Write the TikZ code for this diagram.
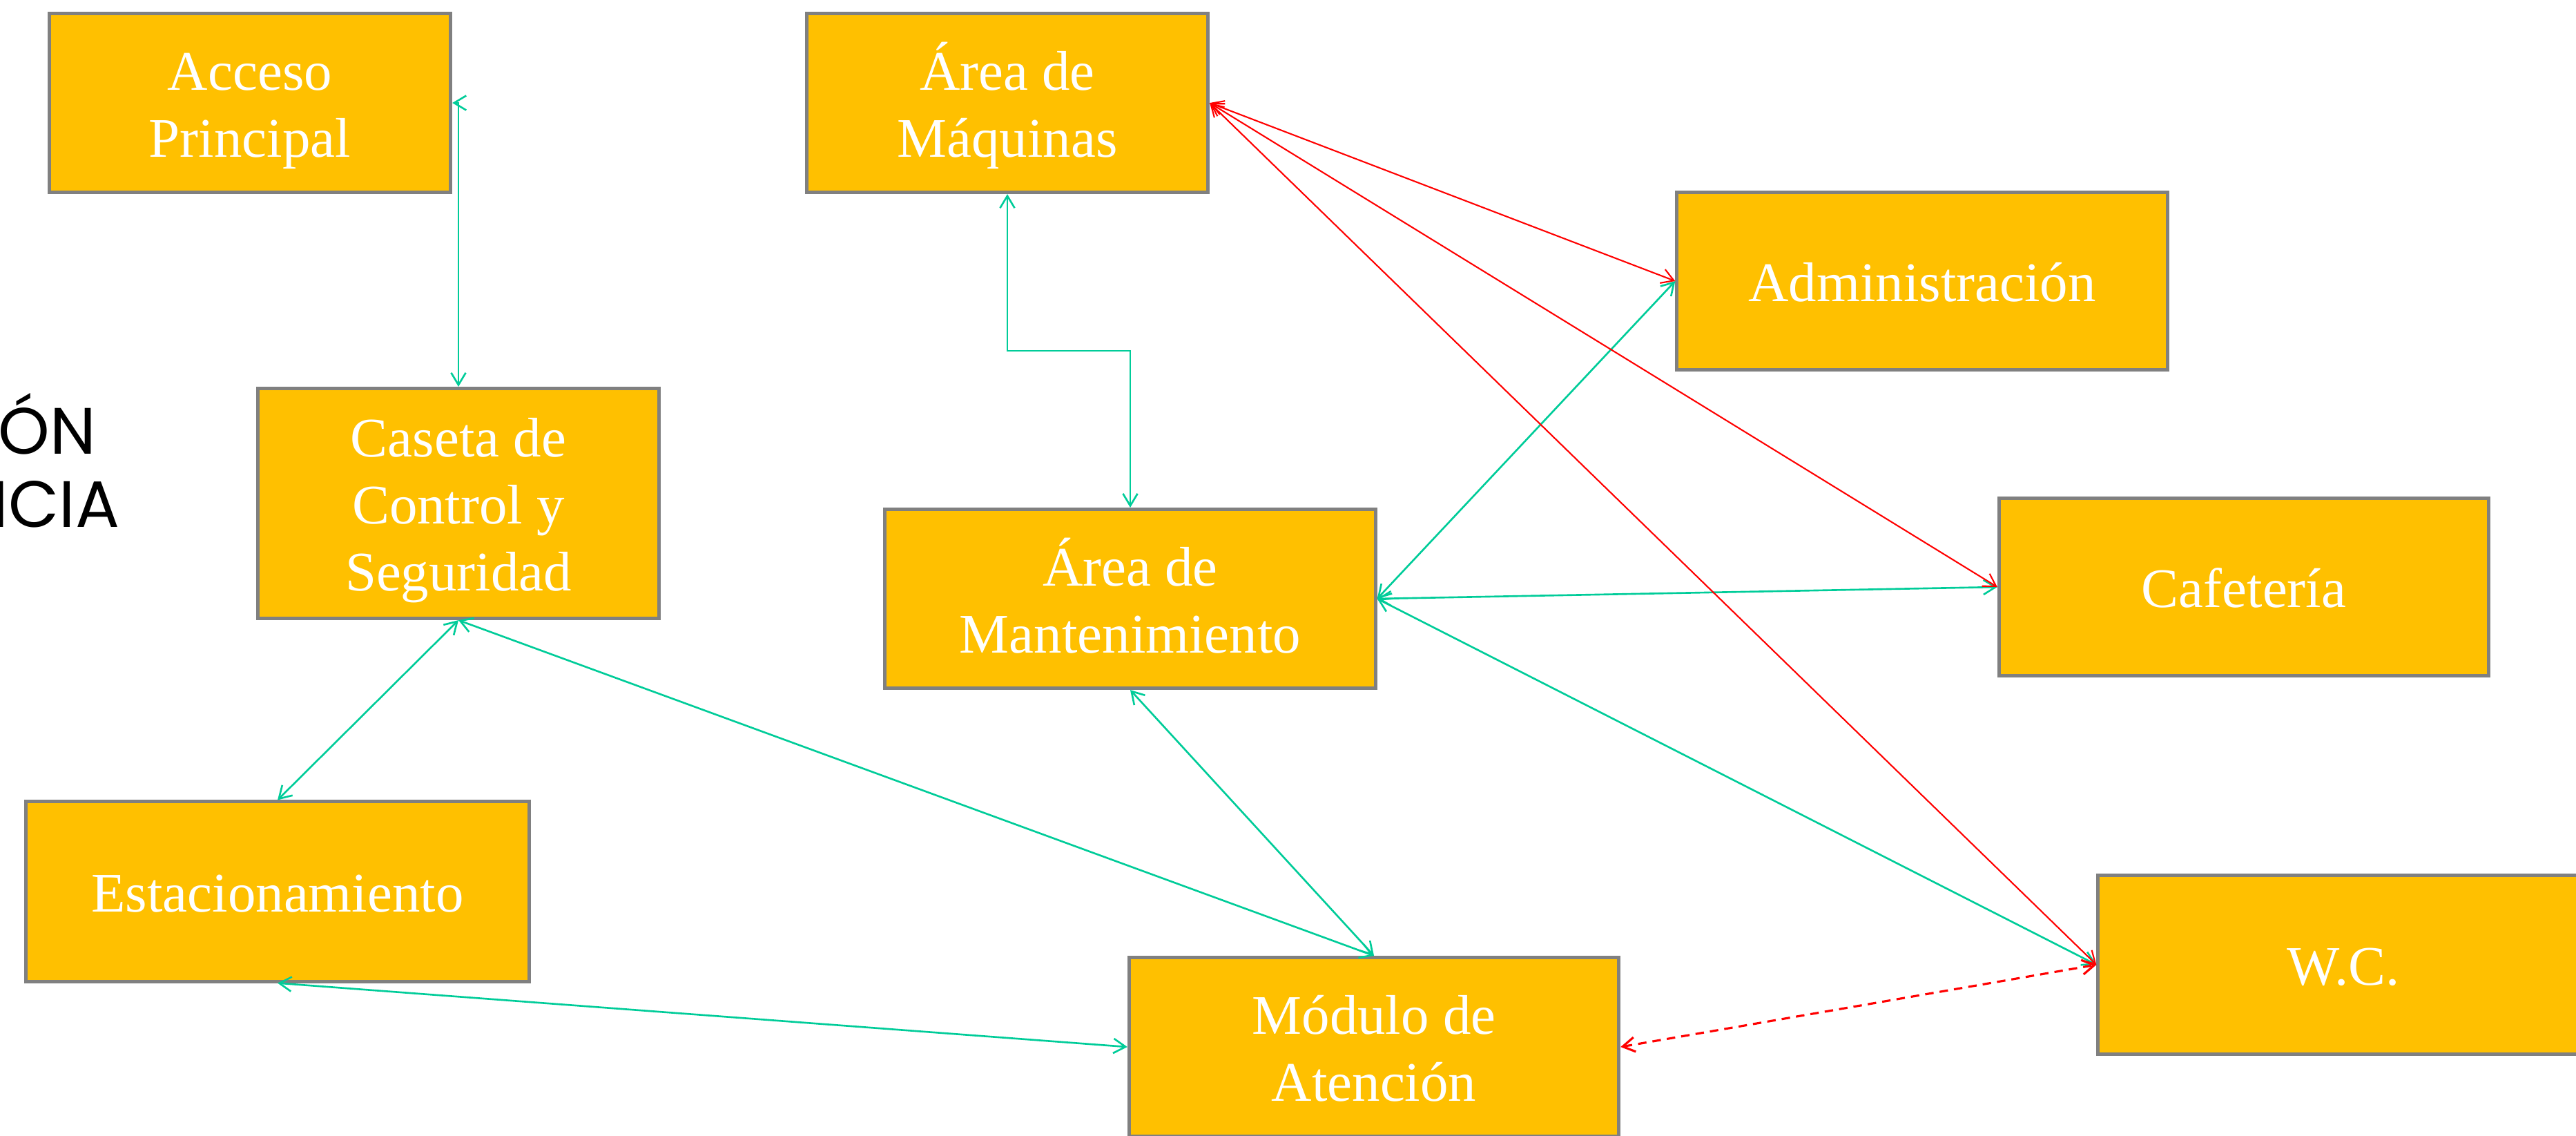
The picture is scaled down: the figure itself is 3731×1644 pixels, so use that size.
\documentclass[tikz,border=0pt]{standalone}
\usepackage{fontspec}
\setmainfont{Liberation Serif}
\newfontfamily\titlefont{Poppins}
\usetikzlibrary{arrows.meta,calc}
\definecolor{boxfill}{HTML}{FFC000}
\definecolor{boxline}{HTML}{808080}
\definecolor{linkgreen}{HTML}{00CC99}
\definecolor{linkred}{HTML}{FF0000}
\newcommand\lstrut{\rule[-5.4pt]{0pt}{27.6pt}}
\begin{document}
\begin{tikzpicture}[x=0.01cm,y=-0.01cm,
  area/.style={rectangle,draw=boxline,fill=boxfill,line width=1.4pt,inner sep=0pt,
    align=center,text=white,font=\fontsize{23}{27.6}\selectfont},
  tip/.style={{Straight Barb[length=5pt,width=6pt]}-{Straight Barb[length=5pt,width=6pt]}},
  glink/.style={draw=linkgreen,line width=0.75pt,tip},
  rlink/.style={draw=linkred,line width=0.6pt,tip},
  dlink/.style={draw=linkred,line width=0.9pt,dash pattern=on 3.5pt off 2.5pt,tip},
  ttl/.style={inner sep=0pt,font=\titlefont\fontsize{27}{32}\selectfont,text=black}
]
\useasboundingbox (0,0) rectangle (3731,1644);

% partial title at left edge
\node[ttl,anchor=base east] (t1) at (140,657) {ÓN};
\node[ttl,anchor=base east] (t2) at (174,763) {NCIA};

% boxes
\node[area,minimum width=5.81cm,minimum height=2.59cm] (acc) at (362,149) {\lstrut Acceso\\\lstrut Principal};
\node[area,minimum width=5.81cm,minimum height=2.59cm] (maq) at (1459,149) {\lstrut Área de\\\lstrut Máquinas};
\node[area,minimum width=7.10cm,minimum height=2.57cm] (adm) at (2784,407) {\lstrut Administración};
\node[area,minimum width=5.80cm,minimum height=3.33cm] (cas) at (664,729) {\lstrut Caseta de\\\lstrut Control y\\\lstrut Seguridad};
\node[area,minimum width=7.10cm,minimum height=2.59cm] (man) at (1637,867) {\lstrut Área de\\\lstrut Mantenimiento};
\node[area,minimum width=7.09cm,minimum height=2.57cm] (caf) at (3250,850) {\lstrut Cafetería};
\node[area,minimum width=7.28cm,minimum height=2.60cm] (est) at (402,1291) {\lstrut Estacionamiento};
\node[area,minimum width=7.09cm,minimum height=2.59cm] (mod) at (1990,1516) {\lstrut Módulo de\\\lstrut Atención};
\node[area,minimum width=7.10cm,minimum height=2.59cm] (wc) at (3394,1397) {\lstrut W.C.};

% green connectors
\draw[glink] (acc.east) -| (cas.north);
\coordinate (mm) at ($(maq.south)!0.5!(man.north)$);
\draw[glink] (maq.south) -- (maq.south |- mm) -| (man.north);
\draw[glink] (cas.south) -- (est.north);
\draw[glink] (cas.south) -- (mod.north);
\draw[glink] (est.south) -- (mod.west);
\draw[glink] (man.south) -- (mod.north);
\draw[glink] (man.east) -- (adm.west);
\draw[glink] (man.east) -- (caf.west);
\draw[glink] (man.east) -- (wc.west);

% red connectors
\draw[rlink] (maq.east) -- (adm.west);
\draw[rlink] (maq.east) -- (caf.west);
\draw[rlink] (maq.east) -- (wc.west);
\draw[dlink] (mod.east) -- (wc.west);
\end{tikzpicture}
\end{document}
